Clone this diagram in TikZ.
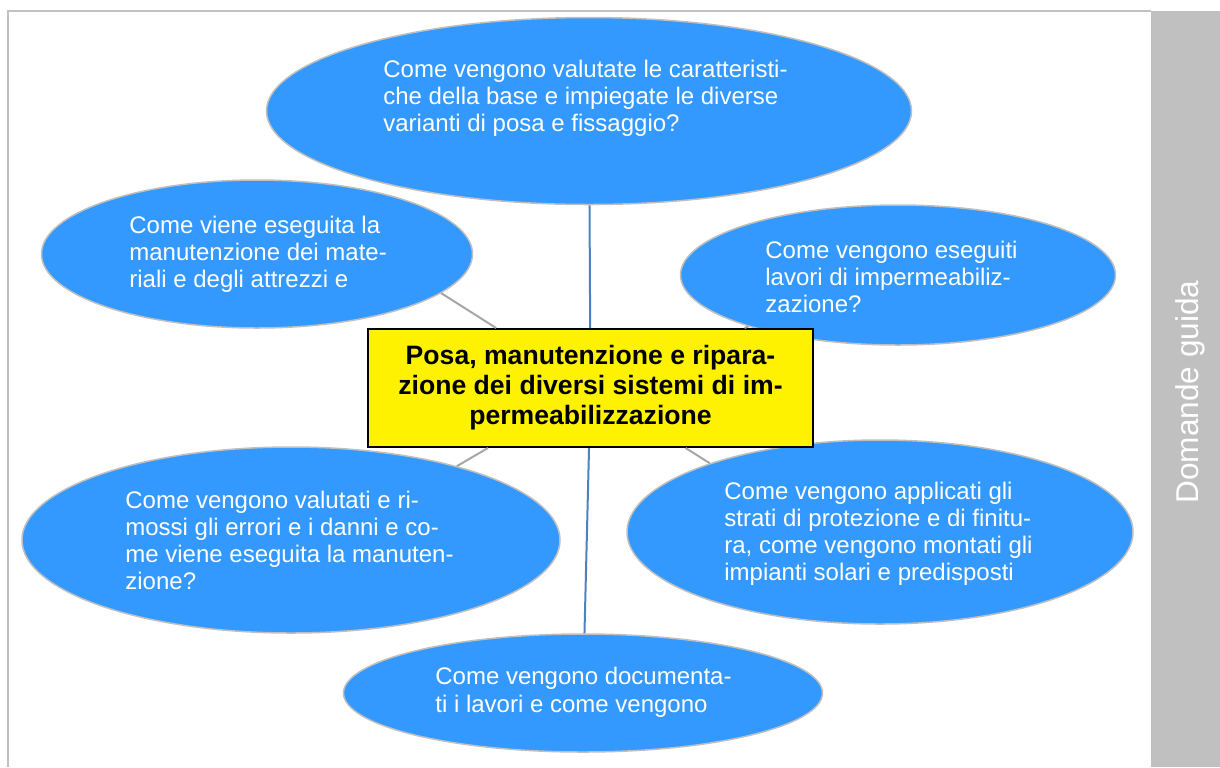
\documentclass[tikz,border=0pt]{standalone}
\usepackage{fontspec}
\setmainfont{Liberation Sans}
\usetikzlibrary{positioning,shapes.geometric}
\definecolor{qblue}{HTML}{3399FF}
\definecolor{qrim}{HTML}{BFBFBF}
\definecolor{spineblue}{HTML}{4F81BD}
\definecolor{linkgray}{HTML}{A6A6A6}
\definecolor{bargray}{HTML}{C0C0C0}

\begin{document}
\begin{tikzpicture}
  [
    x=0.5pt, y=-0.5pt,
    question/.style 2 args={ellipse, draw=qrim, line width=0.75pt, fill=qblue, minimum width=#1, minimum height=#2, inner sep=0pt},
    qtext/.style={anchor=base west, align=left, inner sep=0pt, text=white, font=\fontsize{12}{13.5}\selectfont},
    topic/.style={draw, line width=1pt, fill=yellow, minimum width=222.5pt, minimum height=59pt, align=center, font=\bfseries\fontsize{13.3}{15}\selectfont},
    spine/.style={draw=spineblue, line width=1pt},
    link/.style={draw=linkgray, line width=1pt},
  ]

  \useasboundingbox (0,0) rectangle (1220,767);
  % frame and side bar
  \draw [bargray, line width=1pt] (8,767) -- (8,11) -- (1151,11);
  \fill [bargray] (1151,11) rectangle (1220,767);
  \node (side) [rotate=90, text=white, font=\fontsize{15.8}{18}\selectfont] at (1190,392) {Domande guida};

  % question bubbles
  \node (q1) [question={322.5pt}{93.5pt}] at (589,111) {};
  \node (q2) [question={215.5pt}{74pt}] at (257,254) {};
  \node (q3) [question={217.5pt}{70pt}] at (898,275) {};
  \node (q4) [question={269pt}{93pt}] at (291,540) {};
  \node (q5) [question={253pt}{92pt}] at (880,532) {};
  \node (q6) [question={239.5pt}{59pt}] at (583,693) {};

  % texts sit on the baseline of their last line
  \node (q1t) [qtext] at (383,131) {Come vengono valutate le caratteristi-\\che della base e impiegate le diverse\\varianti di posa e fissaggio?};
  \node (q2t) [qtext] at (129,287) {Come viene eseguita la\\manutenzione dei mate-\\riali e degli attrezzi e};
  \node (q3t) [qtext] at (765,312) {Come vengono eseguiti\\lavori di impermeabiliz-\\zazione?};
  \node (q4t) [qtext] at (125,589) {Come vengono valutati e ri-\\mossi gli errori e i danni e co-\\me viene eseguita la manuten-\\zione?};
  \node (q5t) [qtext] at (724,580) {Come vengono applicati gli\\strati di protezione e di finitu-\\ra, come vengono montati gli\\impianti solari e predisposti};
  \node (q6t) [qtext, font=\fontsize{12}{14}\selectfont] at (435,712) {Come vengono documenta-\\ti i lavori e come vengono};

  % central topic
  \node (c) [topic] at (590.5,388) {Posa, manutenzione e ripara-\\zione dei diversi sistemi di im-\\permeabilizzazione};

  \draw [spine] (q1) -- (c);
  \draw [spine] (c) -- (q6);
  \foreach \q/\a in {q2/-12,q3/199,q4/24,q5/158}
    \draw [link] (c) -- (\q.\a);
\end{tikzpicture}
\end{document}
